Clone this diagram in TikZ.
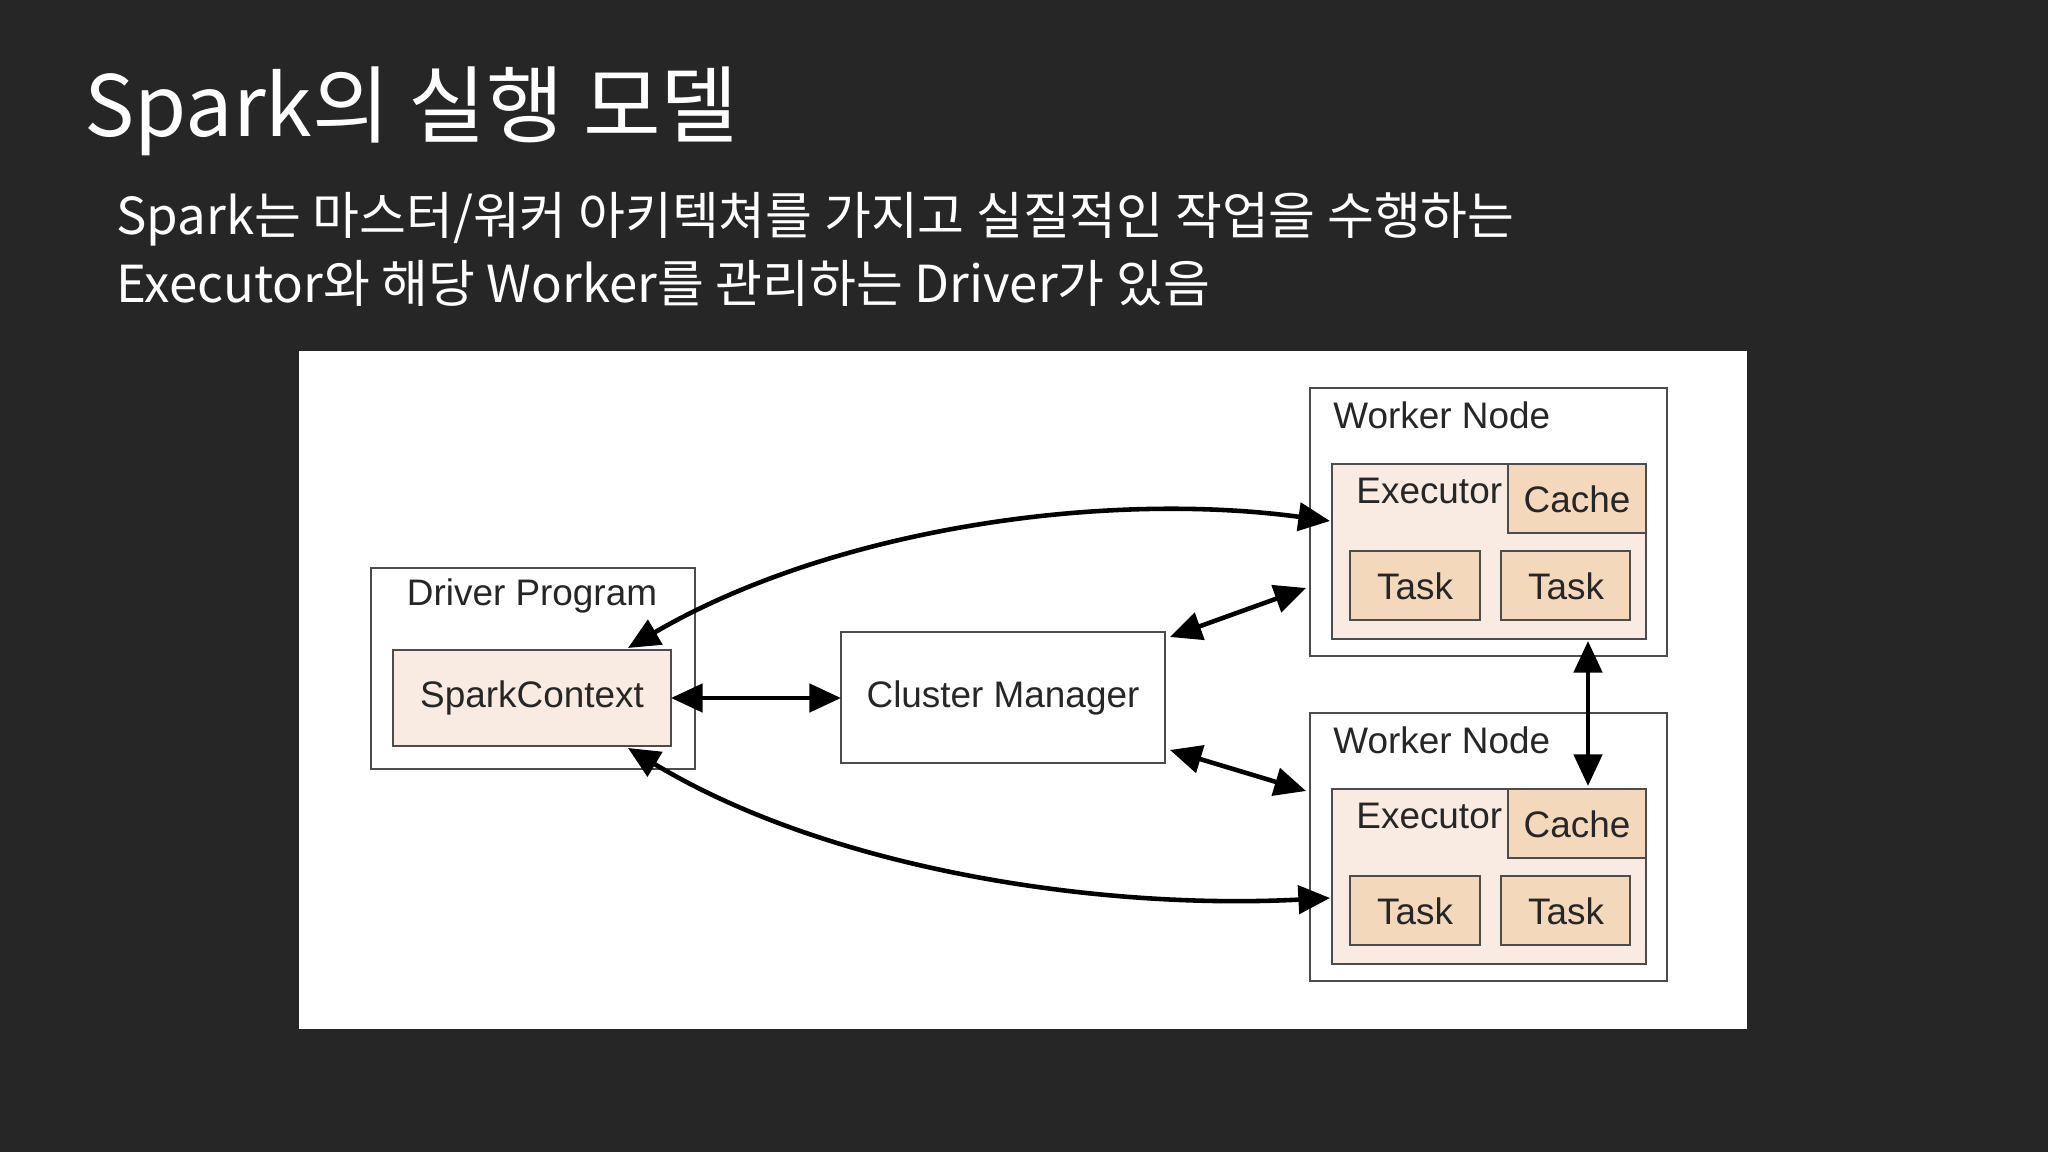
\documentclass[tikz,border=0pt]{standalone}
\usepackage{fontspec}
\setmainfont{Liberation Sans}
\newfontfamily\kr{Noto Sans CJK KR}
\usetikzlibrary{arrows.meta}
\definecolor{bgc}{HTML}{262626}
\definecolor{exe}{HTML}{F9EBE1}
\definecolor{tsk}{HTML}{F3D8BC}
\tikzset{
 bx/.style={draw=black!70,line width=0.8pt,inner sep=0},
 lbl/.style={font=\fontsize{10.5}{12}\selectfont,text=black!85},
 conn/.style={line width=1.3pt,{Triangle[length=9pt,width=8pt]}-{Triangle[length=9pt,width=8pt]}}
}
\begin{document}
\begin{tikzpicture}[x=0.1mm,y=-0.1mm]
\fill[bgc] (0,0) rectangle (2048,1152);
\useasboundingbox (0,0) rectangle (2048,1152);
\node[anchor=base west,text=white,font=\kr\fontsize{24}{28}\selectfont] (title) at (72,137) {Spark의 실행 모델};
\node[anchor=base west,text=white,font=\kr\fontsize{14.5}{17}\selectfont] (sub1) at (104,235) {Spark는 마스터/워커 아키텍쳐를 가지고 실질적인 작업을 수행하는};
\node[anchor=base west,text=white,font=\kr\fontsize{14.5}{17}\selectfont] (sub2) at (104,303) {Executor와 해당 Worker를 관리하는 Driver가 있음};
\fill[white] (299,351) rectangle (1747,1029);
% driver
\draw[bx,fill=white] (371,568) rectangle (695,769);
\node[lbl] (dp) at (532,596) {Driver Program};
\draw[bx,fill=exe] (393,650) rectangle (671,746);
\node[lbl] (sc) at (532,698) {SparkContext};
\coordinate (scR) at (671,698);
% cluster
\draw[bx,fill=white] (841,632) rectangle (1165,763);
\node[lbl] (cm) at (1003,698) {Cluster Manager};
\coordinate (cmL) at (841,698);
% workers
\foreach \o/\n in {0/a,325/b}{
 \begin{scope}[yshift=-\o*0.1mm]
 \draw[bx,fill=white] (1310,388) rectangle (1667,656);
 \node[lbl,anchor=west] (wn\n) at (1321,415) {Worker Node};
 \draw[bx,fill=exe] (1332,464) rectangle (1646,639);
 \node[lbl,anchor=west] (ex\n) at (1344,491) {Executor};
 \draw[bx,fill=tsk] (1508,464) rectangle (1646,533);
 \node[lbl] (ca\n) at (1577,499) {Cache};
 \draw[bx,fill=tsk] (1350,551) rectangle (1480,620);
 \node[lbl] (t1\n) at (1415,586) {Task};
 \draw[bx,fill=tsk] (1501,551) rectangle (1630,620);
 \node[lbl] (t2\n) at (1566,586) {Task};
 \end{scope}}
\coordinate (e1L) at (1330,521);
\coordinate (e2L) at (1330,898);
\draw[conn] (scR) -- (cmL);
\draw[conn] (1170,637) -- (1306,588);
\draw[conn] (1170,750) -- (1306,791);
\draw[conn] (628,648) .. controls (830,530) and (1100,490) .. (e1L);
\draw[conn] (628,748) .. controls (830,870) and (1100,910) .. (e2L);
\draw[conn] (1588,641) -- (1588,786);
\end{tikzpicture}
\end{document}
